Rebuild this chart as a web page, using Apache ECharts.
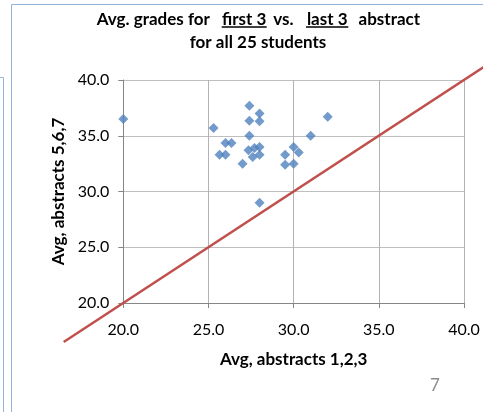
<!DOCTYPE html>
<html>
<head>
<meta charset="utf-8">
<script src="https://cdn.jsdelivr.net/npm/echarts@6/dist/echarts.min.js"></script>
<style>
html,body{margin:0;padding:0;background:#fff;}
#c{width:483px;height:412px;}
</style>
</head>
<body>
<div id="c"></div>
<script>
// Data
var abstracts123 = [20.0, 25.3, 27.4, 28.0, 27.4, 28.0, 27.4, 26.0, 26.35, 25.65, 26.0, 27.0, 28.0,
                    32.0, 31.0, 30.0, 30.3, 29.5, 29.5, 30.0, 27.35, 27.7, 28.0, 27.6, 28.0];
var abstracts567 = [36.5, 35.7, 37.7, 37.0, 36.35, 36.3, 35.0, 34.35, 34.35, 33.3, 33.3, 32.5, 29.0,
                    36.7, 35.0, 34.0, 33.5, 33.3, 32.4, 32.5, 33.7, 33.9, 34.0, 33.1, 33.3];
var referenceX = [16.5, 42];
var referenceY = [16.5, 42];
var axisTicks = [20, 25, 30, 35, 40];
var titleLine1 = ['Avg. grades for', 'first 3', 'vs.', 'last 3', 'abstract'];
var titleLine2 = 'for all 25 students';
var xName = 'Avg, abstracts 1,2,3';
var yName = 'Avg, abstracts 5,6,7';
var pageNumber = '7';

var chart = echarts.init(document.getElementById('c'), null, {renderer: 'canvas'});

var points = abstracts123.map(function (x, i) { return [x, abstracts567[i]]; });
var refLine = referenceX.map(function (x, i) { return [x, referenceY[i]]; });

var FONT = 'Lato';
var titleCenters = [153.3, 244.2, 283.3, 327.2, 389.3];

var graphics = [
  {type: 'rect', shape: {x: 11.5, y: 4.5, width: 600, height: 600}, style: {fill: 'none', stroke: '#95b3d7', lineWidth: 1}, silent: true, z: 0},
  {type: 'rect', shape: {x: -20, y: 77.5, width: 23.5, height: 600}, style: {fill: 'none', stroke: '#95b3d7', lineWidth: 1}, silent: true, z: 0},
  {type: 'text', x: 258, y: 42.5, style: {text: titleLine2, font: 'bold 17px ' + FONT, fill: '#000', textAlign: 'center', textVerticalAlign: 'middle'}},
  {type: 'text', x: 435, y: 385.5, style: {text: pageNumber, font: '17px ' + FONT, fill: '#8c8c8c', textAlign: 'center', textVerticalAlign: 'middle'}}
];
titleLine1.forEach(function (t, i) {
  graphics.push({type: 'text', x: titleCenters[i], y: 20, style: {text: t, font: 'bold 17px ' + FONT, fill: '#000', textAlign: 'center', textVerticalAlign: 'middle'}});
});
var ulines = [[221.7, 266.7], [306, 348.3]];
ulines.forEach(function (u) {
  graphics.push({type: 'line', shape: {x1: u[0], y1: 27, x2: u[1], y2: 27}, style: {stroke: '#000', lineWidth: 1.3}});
});

chart.setOption({
  animation: false,
  backgroundColor: '#fff',
  grid: {left: 123.3, right: 19, top: 80, bottom: 109, containLabel: false},
  xAxis: {
    type: 'value', min: axisTicks[0], max: axisTicks[axisTicks.length - 1], interval: 5,
    name: xName, nameLocation: 'middle', nameGap: 48,
    nameTextStyle: {fontFamily: FONT, fontWeight: 'bold', fontSize: 17, color: '#000'},
    axisLine: {show: true, lineStyle: {color: '#868686', width: 1}},
    axisTick: {show: true, inside: false, length: 5, lineStyle: {color: '#868686'}},
    axisLabel: {margin: 19, fontFamily: FONT, fontSize: 16, color: '#000', formatter: function (v) { return v.toFixed(1); }},
    splitLine: {show: true, lineStyle: {color: '#b3b3b3', width: 1}}
  },
  yAxis: {
    type: 'value', min: axisTicks[0], max: axisTicks[axisTicks.length - 1], interval: 5,
    name: yName, nameLocation: 'middle', nameGap: 54, nameRotate: 90,
    nameTextStyle: {fontFamily: FONT, fontWeight: 'bold', fontSize: 17, color: '#000'},
    axisLine: {show: true, lineStyle: {color: '#868686', width: 1}},
    axisTick: {show: true, inside: false, length: 5, lineStyle: {color: '#868686'}},
    axisLabel: {margin: 14, fontFamily: FONT, fontSize: 16, color: '#000', formatter: function (v) { return v.toFixed(1); }},
    splitLine: {show: true, lineStyle: {color: '#bfbfbf', width: 1}}
  },
  series: [
    {
      type: 'custom', coordinateSystem: 'cartesian2d', clip: false, silent: true, z: 3,
      data: refLine,
      renderItem: function (params, api) {
        if (params.dataIndex !== 0) { return null; }
        var p1 = api.coord(refLine[0]);
        var p2 = api.coord(refLine[refLine.length - 1]);
        return {type: 'line', shape: {x1: p1[0], y1: p1[1], x2: p2[0], y2: p2[1]},
                style: {stroke: '#c0504d', lineWidth: 2.5}};
      }
    },
    {
      type: 'scatter', data: points, symbol: 'diamond', symbolSize: 10,
      itemStyle: {color: '#4f81bd'}, z: 4
    }
  ],
  graphic: graphics
});
</script>
</body>
</html>
